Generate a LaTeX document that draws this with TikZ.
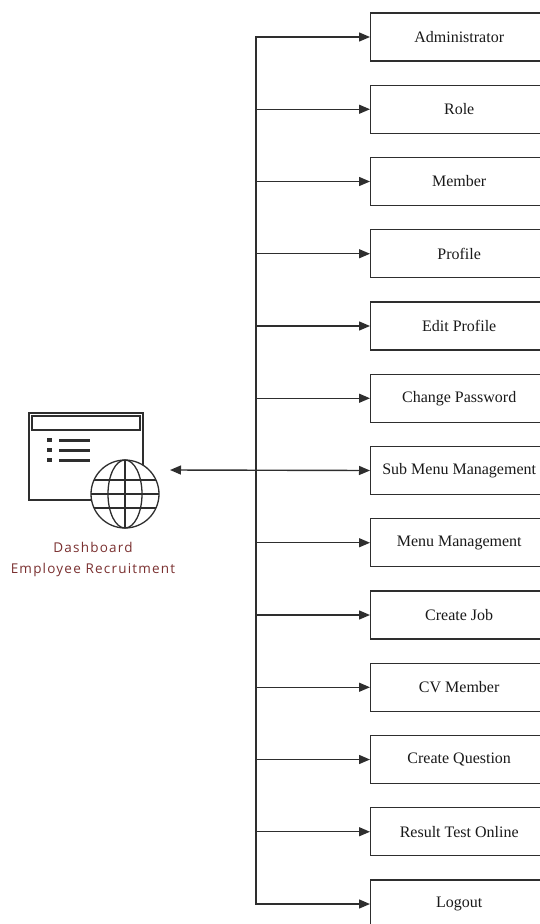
\documentclass[tikz,border=0pt]{standalone}
\usepackage{fontspec}
\setmainfont{Liberation Serif}
\newfontfamily\labelfont[LetterSpace=9]{Open Sans}
\usetikzlibrary{arrows.meta}
\definecolor{linec}{HTML}{2E2E2E}
\definecolor{labc}{HTML}{7A3030}
\begin{document}
\begin{tikzpicture}[x=1pt,y=-1pt,
  menubox/.style={draw=linec, line width=1.4pt, minimum width=177pt, minimum height=48pt, inner sep=0pt, font=\fontsize{16}{18}\selectfont, anchor=west, text=black!90},
  conn/.style={draw=linec, line width=1.4pt},
  tip/.style={-{Triangle[length=11pt,width=9pt]}},
  twotip/.style={{Triangle[length=11pt,width=9pt]}-{Triangle[length=11pt,width=9pt]}},
  iconline/.style={draw=linec, line width=1.3pt}]
\useasboundingbox (0,0) rectangle (539,924);
% menu boxes
\foreach \i/\t [count=\k] in {b1/Administrator, b2/Role, b3/Member, b4/Profile, b5/Edit Profile, b6/Change Password, b7/Sub Menu Management, b8/Menu Management, b9/Create Job, b10/CV Member, b11/Create Question, b12/Result Test Online, b13/Logout}{
  \node[menubox] (\i) at (370,{37+72.25*(\k-1)}) {\t};
}
% bus
\coordinate (bt) at (256,37);
\coordinate (bb) at (256,904);
\draw[conn,twotip] (b1.west) -- (bt) -- (bb) -- (b13.west);
\foreach \i in {b2,b3,b4,b5,b6,b8,b9,b10,b11,b12}{
  \draw[conn,tip] (\i.west -| bt) -- (\i.west);
}
% icon
\draw[iconline] (29,413) rectangle (143,500);
\draw[iconline] (32,416) rectangle (140,430);
\foreach \y in {440,450,460}{
  \fill[linec] (47,\y-2) rectangle (52,\y+2);
  \fill[linec] (59,\y-1.5) rectangle (90,\y+1.5);
}
\fill[white] (125,494) circle (34);
\begin{scope}
  \clip (125,494) circle (34);
  \foreach \y in {480,494,508}{\draw[iconline] (90,\y) -- (160,\y);}
\end{scope}
\draw[iconline] (125,494) circle (34);
\draw[iconline] (125,494) ellipse (17 and 34);
\draw[iconline] (125,460) -- (125,528);
\coordinate (iconR) at (170,470);
\node[font=\labelfont\fontsize{13.5}{21}\selectfont, text=labc, align=center] (lab) at (93,559) {Dashboard\\Employee Recruitment};
% bidirectional link
\draw[conn,twotip] (iconR) -- (b7.west);
\end{tikzpicture}
\end{document}
